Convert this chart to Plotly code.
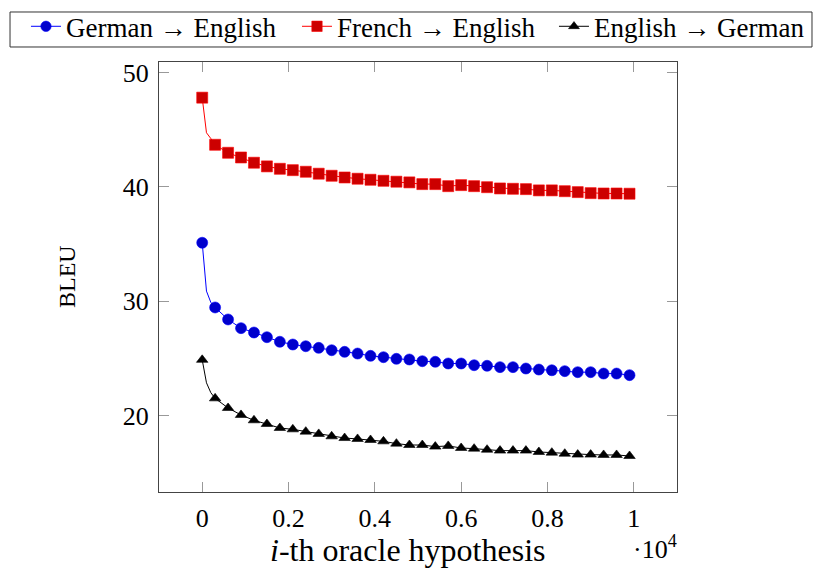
import plotly.graph_objects as go

# i-th oracle hypothesis (x values)
hyp_idx = [1, 100, 200, 300, 600, 900, 1200, 1500, 1800, 2100, 2400, 2700, 3000,
           3300, 3600, 3900, 4200, 4500, 4800, 5100, 5400, 5700, 6000, 6300, 6600,
           6900, 7200, 7500, 7800, 8100, 8400, 8700, 9000, 9300, 9600, 9900]
# which points carry a mark (pgfplots "mark repeat")
has_mark = [1, 0, 0] + [1] * 33

de_en = [35.11, 30.88, 29.90, 29.45, 28.40, 27.64, 27.26, 26.85, 26.45, 26.21, 26.06,
         25.92, 25.71, 25.57, 25.42, 25.22, 25.10, 24.96, 24.90, 24.75, 24.70, 24.55,
         24.55, 24.40, 24.35, 24.23, 24.23, 24.11, 24.02, 23.96, 23.88, 23.79, 23.79,
         23.67, 23.67, 23.53]
fr_en = [47.80, 44.73, 44.23, 43.68, 42.98, 42.57, 42.11, 41.79, 41.58, 41.46, 41.32,
         41.15, 40.97, 40.82, 40.71, 40.62, 40.53, 40.45, 40.39, 40.24, 40.24, 40.06,
         40.15, 40.06, 39.97, 39.86, 39.83, 39.80, 39.69, 39.69, 39.62, 39.54, 39.45,
         39.42, 39.42, 39.40]
en_de = [24.87, 22.86, 22.00, 21.50, 20.66, 20.05, 19.58, 19.26, 18.91, 18.79, 18.59,
         18.39, 18.18, 18.03, 17.95, 17.86, 17.74, 17.54, 17.42, 17.42, 17.28, 17.34,
         17.16, 17.10, 17.01, 16.93, 16.93, 16.93, 16.81, 16.75, 16.66, 16.58, 16.58,
         16.55, 16.55, 16.46]

series_names = ["German \u2192 English", "French \u2192 English", "English \u2192 German"]
x_tick_vals = [0, 2000, 4000, 6000, 8000, 10000]
x_tick_text = ["0", "0.2", "0.4", "0.6", "0.8", "1"]
y_tick_vals = [20, 30, 40, 50]

FONT = "Liberation Serif"

styles = [
    dict(y=de_en, line="#0000ff", fill="#0000cc", symbol="circle", size=11,
         legend="legend", lx=-0.2568),
    dict(y=fr_en, line="#ff0000", fill="#cc0000", symbol="square", size=11,
         legend="legend2", lx=0.2664),
    dict(y=en_de, line="#000000", fill="#000000", symbol="triangle-up", size=10,
         legend="legend3", lx=0.7625),
]

fig = go.Figure()
for name, st in zip(series_names, styles):
    sizes = [st["size"] if m else 0 for m in has_mark]
    fig.add_trace(go.Scatter(
        x=hyp_idx, y=st["y"], name=name, mode="lines+markers",
        legend=st["legend"],
        line=dict(color=st["line"], width=1),
        marker=dict(symbol=st["symbol"], size=sizes, color=st["fill"], opacity=1,
                    line=dict(color=st["line"], width=0.6)),
    ))

axis_common = dict(
    showgrid=False, zeroline=False, showline=True, linecolor="#444", linewidth=1,
    mirror="ticks", ticks="inside", ticklen=10, tickcolor="#999", tickwidth=1,
    tickfont=dict(family=FONT, size=26, color="black"),
)

legend_common = dict(orientation="h", y=1.082, xanchor="left", yanchor="middle",
                     borderwidth=0, bgcolor="rgba(0,0,0,0)",
                     font=dict(family=FONT, size=27, color="black"))

fig.update_layout(
    width=814, height=573,
    margin=dict(l=159, r=137, t=62, b=81, autoexpand=False),
    paper_bgcolor="white", plot_bgcolor="white",
    font=dict(family=FONT, color="black"),
    xaxis=dict(range=[-1000, 11000], tickvals=x_tick_vals, ticktext=x_tick_text,
               ticklabelstandoff=3, automargin=False, **axis_common),
    yaxis=dict(range=[13.31, 50.92], tickvals=y_tick_vals,
               ticklabelstandoff=4, automargin=False, **axis_common),
    legend=dict(x=styles[0]["lx"], **legend_common),
    legend2=dict(x=styles[1]["lx"], **legend_common),
    legend3=dict(x=styles[2]["lx"], **legend_common),
    showlegend=True,
    shapes=[dict(type="rect", xref="paper", yref="paper",
                 x0=-0.2876, x1=1.2606, y0=1.0349, y1=1.1163,
                 line=dict(color="#333", width=1), fillcolor="rgba(0,0,0,0)",
                 layer="below")],
    annotations=[
        dict(text="<i>i</i>-th oracle hypothesis", xref="paper", yref="paper",
             x=0.4788, y=-0.136, xanchor="center", yanchor="middle", showarrow=False,
             font=dict(family=FONT, size=32)),
        dict(text="\u00b710<sup>4</sup>", xref="paper", yref="paper",
             x=0.9575, y=-0.128, xanchor="center", yanchor="middle", showarrow=False,
             font=dict(family=FONT, size=26)),
        dict(text="BLEU", xref="paper", yref="paper", textangle=-90,
             x=-0.1776, y=0.5, xanchor="center", yanchor="middle", showarrow=False,
             font=dict(family=FONT, size=24)),
    ],
)

fig.write_html("out.html")
